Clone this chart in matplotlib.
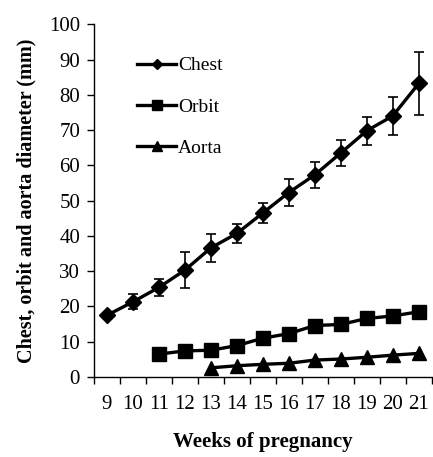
import numpy as np
import matplotlib.pyplot as plt
from matplotlib.lines import Line2D

# Daten
weeks = ["9", "10", "11", "12", "13", "14", "15", "16", "17", "18", "19", "20", "21"]
chest = [17.5, 21.3, 25.4, 30.3, 36.6, 40.7, 46.5, 52.3, 57.3, 63.5, 69.8, 74.0, 83.2]
chest_err = [0, 2.1, 2.4, 5.0, 4.0, 2.8, 2.8, 3.8, 3.7, 3.7, 3.9, 5.3, 9.0]
orbit_weeks = ["11", "12", "13", "14", "15", "16", "17", "18", "19", "20", "21"]
orbit = [6.5, 7.4, 7.6, 8.9, 11.0, 12.3, 14.6, 14.9, 16.6, 17.3, 18.5]
aorta_weeks = ["13", "14", "15", "16", "17", "18", "19", "20", "21"]
aorta = [2.6, 3.2, 3.6, 3.9, 4.8, 5.1, 5.6, 6.2, 6.7]

plt.rcParams['font.family'] = ['Liberation Serif', 'DejaVu Serif']

fig = plt.figure(figsize=(4.33, 4.57), dpi=100)
ax = fig.add_axes([0.217, 0.175, 0.78, 0.772])

xc = np.arange(len(weeks))
xo = np.array([weeks.index(w) for w in orbit_weeks])
xa = np.array([weeks.index(w) for w in aorta_weeks])

ax.errorbar(xc, chest, yerr=chest_err, color="black", lw=2.4, marker="D", ms=8,
            ecolor="black", elinewidth=1.2, capsize=3.5, capthick=1.2, label="Chest")
ax.plot(xo, orbit, color="black", lw=2.4, marker="s", ms=10, label="Orbit")
ax.plot(xa, aorta, color="black", lw=2.4, marker="^", ms=10, label="Aorta")

ax.set_xlim(-0.5, len(weeks) - 0.5)
ax.set_ylim(0, 100)
ax.set_yticks(range(0, 101, 10))
ax.set_xticks(xc)
ax.set_xticklabels(weeks)
ax.set_xticks(np.arange(-0.5, len(weeks), 1), minor=True)
ax.tick_params(axis="x", which="major", length=0, pad=13, labelsize=15)
ax.tick_params(axis="x", which="minor", length=5, width=1, direction="out")
ax.tick_params(axis="y", length=5, width=1, direction="out", labelsize=15, pad=5)

ax.spines["top"].set_visible(False)
ax.spines["right"].set_visible(False)
ax.spines["left"].set_linewidth(1)
ax.spines["bottom"].set_linewidth(1)

ax.set_ylabel("Chest, orbit and aorta diameter (mm)", fontsize=14.5, fontweight="bold", labelpad=9)
ax.set_xlabel("Weeks of pregnancy", fontsize=15, fontweight="bold", labelpad=13)

# Legende mit kleineren Markern, ohne Fehlerbalken
handles = [Line2D([], [], color="black", lw=2.4, marker="D", ms=5),
           Line2D([], [], color="black", lw=2.4, marker="s", ms=7),
           Line2D([], [], color="black", lw=2.4, marker="^", ms=7)]
ax.legend(handles, ["Chest", "Orbit", "Aorta"], loc="upper left", bbox_to_anchor=(0.105, 0.93),
          frameon=False, fontsize=14, handlelength=2.0, handletextpad=0.1, labelspacing=1.22,
          borderaxespad=0)

fig.savefig("out.png", dpi=100)
